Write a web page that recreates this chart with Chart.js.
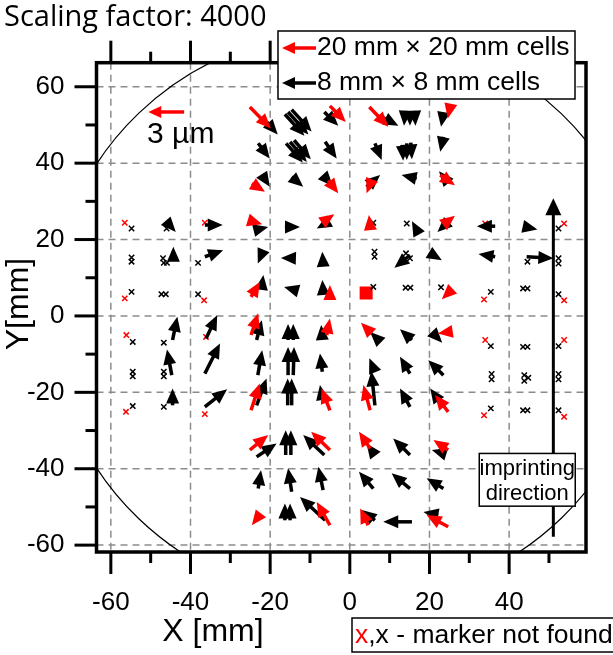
<!DOCTYPE html>
<html>
<head>
<meta charset="utf-8">
<script src="https://cdn.jsdelivr.net/npm/chart.js"></script>
<style>
  body { margin: 0; background: #fff; }
</style>
</head>
<body>
<canvas id="quiverChart" width="613" height="655"></canvas>
<script>
// axis ticks (mm)
const xTickLabels = [-60, -40, -20, 0, 20, 40];
const yTickLabels = [-60, -40, -20, 0, 20, 40, 60];
const xMinorTicks = [-50, -30, -10, 10, 30, 50];
const yMinorTicks = [-50, -30, -10, 10, 30, 50];

// arrows: [tailX, tailY, headX, headY] in mm (displacement already x4000)
const blackArrows = [
    // y ~ 52
    [-20.9, 50.8, -18.1, 47.5], [-16.3, 52.8, -11.4, 47.2], [-15.5, 53.4, -10.4, 47.5], [-14.6, 54.0, -9.6, 48.3],
    [-6.4, 53.4, -2.9, 49.8], [8.0, 52.1, 12.2, 49.8],
    [13.9, 53.4, 13.6, 49.8], [15.1, 53.4, 15.1, 49.8], [16.3, 53.4, 16.5, 49.8], [23.5, 53.0, 22.9, 49.5],
    // y ~ 44
    [-23.0, 45.2, -20.1, 41.2], [-16.0, 45.2, -11.8, 40.2], [-15.0, 45.6, -10.8, 40.3], [-14.0, 46.0, -9.8, 41.0],
    [-6.2, 45.6, -3.3, 41.2], [6.3, 45.2, 8.0, 40.8],
    [13.2, 44.8, 13.4, 40.6], [14.3, 45.2, 14.3, 40.8], [15.3, 45.4, 15.6, 41.0], [23.5, 46.9, 22.7, 43.0],
    // y ~ 36
    [-21.7, 36.4, -20.1, 33.8], [-14.6, 36.4, -11.7, 33.8], [-6.2, 36.2, -4.3, 34.0],
    [4.2, 33.8, 7.6, 36.9], [16.8, 36.0, 13.0, 36.9], [23.9, 36.0, 22.4, 37.9],
    // y ~ 24
    [-45.6, 24.2, -43.7, 22.0], [-36.4, 23.8, -31.9, 23.8],
    [-23.6, 22.5, -20.5, 23.3], [-16.3, 23.3, -12.5, 23.3], [-5.4, 24.6, -8.3, 22.9],
    [16.8, 22.5, 15.6, 24.8], [24.7, 24.6, 22.0, 22.0],
    [36.5, 23.5, 31.9, 23.5], [44.0, 23.3, 47.1, 22.6],
    // y ~ 15
    [-44.3, 15.1, -44.3, 18.1], [-36.4, 15.5, -31.8, 17.2],
    [-21.7, 17.2, -23.1, 13.7], [-14.2, 15.1, -17.3, 15.2], [-6.7, 13.3, -6.9, 16.8],
    [15.1, 15.9, 11.2, 12.6], [20.2, 16.4, 23.1, 14.6],
    [36.5, 15.5, 32.3, 16.2], [44.4, 15.5, 51.1, 15.1],
    // y ~ 7
    [-22.1, 7.6, -21.7, 10.7], [-13.8, 6.8, -16.5, 7.6], [-6.7, 6.3, -6.9, 9.4],
    // y ~ -6
    [-44.5, -6.3, -43.3, -0.2], [-36.1, -5.9, -33.3, 0.2],
    [-23.4, -6.3, -22.1, -1.1], [-15.5, -6.3, -15.5, -2.1], [-14.2, -6.3, -14.2, -2.1], [-6.9, -6.3, -7.2, -2.4],
    [6.8, -5.9, 5.1, -4.2], [15.6, -6.3, 12.6, -3.5], [21.0, -4.6, 23.2, -7.0],
    // y ~ -15
    [-44.7, -15.5, -45.9, -8.8], [-36.4, -15.1, -32.6, -7.2],
    [-23.1, -15.5, -22.0, -9.0], [-15.5, -15.5, -15.5, -8.1], [-14.2, -15.5, -14.0, -8.1], [-6.9, -14.6, -7.5, -9.8],
    [6.3, -14.6, 4.9, -11.1], [6.3, -23.4, 5.4, -14.5], [15.1, -15.1, 12.6, -10.7], [23.5, -15.5, 19.7, -11.6],
    // y ~ -23
    [-44.5, -23.4, -44.5, -19.0], [-36.4, -23.8, -30.8, -19.2],
    [-23.4, -23.4, -20.9, -16.4], [-15.6, -23.4, -15.6, -16.4], [-14.6, -23.4, -14.6, -16.4], [-6.9, -21.6, -7.5, -18.1],
    [15.1, -23.8, 12.6, -19.0], [22.2, -22.0, 20.2, -19.0],
    // y ~ -35
    [-23.4, -36.9, -18.4, -33.4], [-16.1, -36.4, -16.1, -29.9], [-14.8, -36.4, -14.8, -29.9], [-6.4, -36.4, -11.7, -31.2],
    [6.3, -36.4, 4.2, -33.4], [15.1, -36.4, 10.9, -32.1], [23.5, -36.0, 20.6, -35.1],
    // y ~ -45
    [-23.0, -45.2, -22.3, -40.4], [-14.6, -46.0, -15.5, -39.9], [-6.7, -45.6, -7.9, -39.5],
    [5.9, -45.2, 2.3, -40.8], [15.1, -45.2, 10.5, -41.2], [23.5, -45.2, 19.3, -42.5],
    // y ~ -53
    [-16.3, -53.5, -16.3, -49.1], [-15.0, -53.5, -15.0, -49.1], [-6.2, -53.5, -12.5, -47.4],
    [6.3, -53.5, 3.0, -50.8], [15.6, -53.9, 8.4, -53.9], [22.2, -52.1, 18.5, -51.3]
];

const redArrows = [
    [-25.1, 54.7, -19.8, 49.1], [-5.0, 55.0, -1.0, 50.8], [4.9, 54.7, 9.7, 49.5], [25.2, 54.7, 24.6, 51.7],
    [-24.6, 34.7, -21.3, 32.5], [-5.4, 35.5, -2.9, 32.1], [5.5, 35.5, 4.2, 32.1], [22.7, 36.9, 26.4, 34.2],
    [-25.5, 25.1, -22.0, 24.0], [-6.7, 24.6, -3.9, 26.6], [5.1, 23.3, 4.8, 26.4], [23.9, 24.2, 26.4, 26.2],
    [-24.8, 5.0, -22.6, 8.9], [-5.0, 5.0, -5.0, 8.1], [24.9, 6.2, 23.1, 4.4],
    [-24.8, -5.0, -23.0, 0.7], [-5.8, -5.0, -5.0, -0.7], [5.5, -4.6, 2.8, -1.8], [24.7, -4.2, 22.1, -4.6],
    [-24.8, -24.7, -22.6, -17.7], [-5.0, -24.7, -7.1, -19.0], [5.1, -24.7, 3.4, -18.1], [24.7, -25.1, 21.4, -20.7],
    [-25.1, -35.1, -20.5, -31.2], [-5.0, -35.1, -9.7, -30.3], [5.1, -34.7, 2.3, -30.3], [24.7, -35.1, 21.0, -32.5],
    [-23.0, -52.6, -24.6, -54.8], [-5.0, -54.8, -8.3, -48.7], [4.6, -54.8, 2.6, -50.4], [24.7, -55.2, 19.3, -52.1]
];

// positions where the marker was not found
const blackMissing = [
    [-54.8, 22.9], [-46.0, 22.9], [5.9, 24.4], [14.3, 24.2], [52.4, 22.9],
    [-54.8, 15.3], [-54.8, 14.2], [-46.9, 15.1], [-46.7, 13.9], [-45.9, 13.9], [-38.1, 13.9],
    [6.2, 16.8], [6.2, 15.5], [14.1, 16.4], [15.1, 15.1], [44.6, 14.2], [52.4, 15.1], [52.4, 13.7],
    [-54.8, 6.3], [-47.3, 5.7], [-46.2, 5.7], [-38.1, 5.7], [5.9, 7.6], [14.0, 7.4], [15.2, 7.4], [22.9, 7.5],
    [35.4, 6.3], [43.5, 7.2], [44.6, 7.2], [52.4, 5.7],
    [-54.5, -6.8], [-46.7, -7.0], [35.4, -7.9], [43.5, -8.1], [44.6, -8.1], [52.4, -7.9],
    [-54.5, -14.6], [-54.5, -15.8], [-46.7, -14.6], [-46.7, -15.8],
    [35.6, -15.2], [35.6, -16.6], [43.8, -15.5], [43.8, -17.0], [44.8, -16.2], [52.4, -15.2], [52.4, -16.6],
    [-54.5, -23.6], [-46.7, -23.8], [35.4, -24.2], [43.5, -24.7], [44.6, -24.7], [52.4, -24.7]
];
const redMissing = [
    [-56.5, 24.4], [-36.4, 24.4], [34.0, 24.2], [53.8, 24.2],
    [-56.5, 4.6], [-36.6, 4.1], [33.7, 4.3], [53.8, 4.1],
    [-56.1, -5.0], [-36.1, -5.5], [34.0, -6.3], [53.8, -6.3],
    [-56.2, -25.1], [-36.4, -25.7], [33.7, -26.0], [53.8, -26.4]
];
const redSquare = [[4.1, 6.0]];

const scaleArrow = [-41.6, 53.4, -50.6, 53.4]; // 3 µm reference
const imprintArrow = [51.1, -57.8, 51.1, 30.8];
const waferRadius = 75;

const FONT = "'Liberation Sans', Arial, sans-serif";

function drawArrow(ctx, x0, y0, x1, y1, color, shaft, headLen, headW) {
    const dx = x1 - x0, dy = y1 - y0;
    const len = Math.hypot(dx, dy);
    if (len < 0.01) return;
    const ux = dx / len, uy = dy / len;
    const bx = x1 - ux * headLen, by = y1 - uy * headLen;
    ctx.strokeStyle = color;
    ctx.fillStyle = color;
    if (len > headLen) {
        ctx.lineWidth = shaft;
        ctx.beginPath();
        ctx.moveTo(x0, y0);
        ctx.lineTo(bx + ux, by + uy);
        ctx.stroke();
    }
    ctx.beginPath();
    ctx.moveTo(x1, y1);
    ctx.lineTo(bx - uy * headW / 2, by + ux * headW / 2);
    ctx.lineTo(bx + uy * headW / 2, by - ux * headW / 2);
    ctx.closePath();
    ctx.fill();
}

const quiverPlugin = {
    id: 'quiver',
    beforeDatasetsDraw(chart) {
        const { ctx, chartArea: a, scales: { x, y } } = chart;
        ctx.save();
        ctx.strokeStyle = '#8c8c8c';
        ctx.lineWidth = 1.5;
        ctx.setLineDash([7, 5]);
        xTickLabels.forEach(v => {
            const px = x.getPixelForValue(v);
            ctx.beginPath(); ctx.moveTo(px, a.top); ctx.lineTo(px, a.bottom); ctx.stroke();
        });
        yTickLabels.forEach(v => {
            const py = y.getPixelForValue(v);
            ctx.beginPath(); ctx.moveTo(a.left, py); ctx.lineTo(a.right, py); ctx.stroke();
        });
        ctx.setLineDash([]);

        // wafer outline
        ctx.beginPath();
        ctx.rect(a.left, a.top, a.right - a.left, a.bottom - a.top);
        ctx.clip();
        const cx = x.getPixelForValue(0), cy = y.getPixelForValue(0);
        ctx.beginPath();
        ctx.ellipse(cx, cy, x.getPixelForValue(waferRadius) - cx, cy - y.getPixelForValue(waferRadius), 0, 0, Math.PI * 2);
        ctx.strokeStyle = '#000';
        ctx.lineWidth = 1.2;
        ctx.stroke();
        ctx.restore();
    },
    afterDatasetsDraw(chart) {
        const { ctx, scales: { x, y } } = chart;
        ctx.save();
        const px = v => x.getPixelForValue(v), py = v => y.getPixelForValue(v);
        blackArrows.forEach(r => drawArrow(ctx, px(r[0]), py(r[1]), px(r[2]), py(r[3]), '#000', 3.5, 15, 13));
        redArrows.forEach(r => drawArrow(ctx, px(r[0]), py(r[1]), px(r[2]), py(r[3]), '#ff0000', 3.5, 15, 13));

        // scale arrow + label
        drawArrow(ctx, px(scaleArrow[0]), py(scaleArrow[1]), px(scaleArrow[2]), py(scaleArrow[3]), '#ff0000', 3.5, 13, 12);
        ctx.fillStyle = '#000';
        ctx.font = '30px ' + FONT;
        ctx.textAlign = 'left';
        ctx.textBaseline = 'middle';
        ctx.fillText('3 µm', px(-50.9), py(47.5));

        // imprinting direction
        drawArrow(ctx, px(imprintArrow[0]), py(imprintArrow[1]), px(imprintArrow[2]), py(imprintArrow[3]), '#000', 3, 17, 16);
        const bx0 = px(32.5), bx1 = px(56.6), by0 = py(-36.0), by1 = py(-49.8);
        ctx.fillStyle = '#fff';
        ctx.fillRect(bx0, by0, bx1 - bx0, by1 - by0);
        ctx.strokeStyle = '#000';
        ctx.lineWidth = 1.5;
        ctx.strokeRect(bx0, by0, bx1 - bx0, by1 - by0);
        ctx.fillStyle = '#000';
        ctx.font = '22px ' + FONT;
        ctx.textAlign = 'center';
        ctx.fillText('imprinting', (bx0 + bx1) / 2, by0 + 15);
        ctx.fillText('direction', (bx0 + bx1) / 2, by0 + 40);
        ctx.restore();
    },
    afterDraw(chart) {
        const { ctx, chartArea: a, scales: { x, y } } = chart;
        ctx.save();
        // frame
        ctx.strokeStyle = '#000';
        ctx.lineWidth = 3.5;
        ctx.strokeRect(a.left, a.top, a.right - a.left, a.bottom - a.top);

        // outer ticks: top, bottom, left
        ctx.lineWidth = 3;
        const tick = (x0, y0, x1, y1) => { ctx.beginPath(); ctx.moveTo(x0, y0); ctx.lineTo(x1, y1); ctx.stroke(); };
        xTickLabels.forEach(v => {
            const p = x.getPixelForValue(v);
            tick(p, a.top, p, a.top - 22);
            tick(p, a.bottom, p, a.bottom + 22);
        });
        xMinorTicks.forEach(v => {
            const p = x.getPixelForValue(v);
            tick(p, a.top, p, a.top - 11);
            tick(p, a.bottom, p, a.bottom + 11);
        });
        yTickLabels.forEach(v => {
            const p = y.getPixelForValue(v);
            tick(a.left, p, a.left - 22, p);
        });
        yMinorTicks.forEach(v => {
            const p = y.getPixelForValue(v);
            tick(a.left, p, a.left - 11, p);
        });

        // axis titles
        ctx.fillStyle = '#000';
        ctx.font = '32px ' + FONT;
        ctx.textAlign = 'center';
        ctx.textBaseline = 'middle';
        ctx.fillText('X [mm]', 213, 632);
        ctx.save();
        ctx.translate(19, 304);
        ctx.rotate(-Math.PI / 2);
        ctx.fillText('Y[mm]', 0, 0);
        ctx.restore();

        // scaling factor
        ctx.font = "29px 'Open Sans', sans-serif";
        ctx.textAlign = 'left';
        ctx.fillText('Scaling factor: 4000', 4, 18);

        // legend box
        ctx.fillStyle = '#fff';
        ctx.fillRect(278, 31, 297, 68);
        ctx.lineWidth = 1.5;
        ctx.strokeRect(278, 31, 297, 68);
        drawArrow(ctx, 316, 48, 282, 48, '#ff0000', 3.5, 13, 12);
        drawArrow(ctx, 316, 83, 282, 83, '#000', 3.5, 13, 12);
        ctx.fillStyle = '#000';
        ctx.font = '26.5px ' + FONT;
        ctx.textAlign = 'left';
        ctx.fillText('20 mm × 20 mm cells', 317, 48);
        ctx.fillText('8 mm × 8 mm cells', 317, 83);

        // marker-not-found note
        ctx.fillStyle = '#fff';
        ctx.fillRect(352, 618, 270, 34);
        ctx.strokeStyle = '#000';
        ctx.lineWidth = 1.5;
        ctx.strokeRect(352, 618, 270, 34);
        ctx.fillStyle = '#ff0000';
        ctx.fillText('x', 355, 636);
        const w = ctx.measureText('x').width;
        ctx.fillStyle = '#000';
        ctx.fillText(',x - marker not found', 355 + w, 636);
        ctx.restore();
    }
};

const toPoints = arr => arr.map(p => ({ x: p[0], y: p[1] }));

new Chart(document.getElementById('quiverChart'), {
    type: 'scatter',
    data: {
        datasets: [
            {
                label: 'marker not found (8 mm cells)',
                data: toPoints(blackMissing),
                pointStyle: 'crossRot',
                pointRadius: 3.8,
                borderColor: '#000',
                borderWidth: 1.5
            },
            {
                label: 'marker not found (20 mm cells)',
                data: toPoints(redMissing),
                pointStyle: 'crossRot',
                pointRadius: 3.8,
                borderColor: '#ff0000',
                borderWidth: 1.5
            },
            {
                label: 'reference',
                data: toPoints(redSquare),
                pointStyle: 'rect',
                pointRadius: 9.2,
                backgroundColor: '#ff0000',
                borderColor: '#ff0000',
                borderWidth: 0
            }
        ]
    },
    options: {
        responsive: false,
        animation: false,
        devicePixelRatio: 1,
        layout: { padding: { top: 62.7, right: 27, left: 0, bottom: 0 } },
        plugins: { legend: { display: false }, tooltip: { enabled: false } },
        scales: {
            x: {
                type: 'linear',
                min: -63.6,
                max: 59.3,
                grid: { display: false, drawTicks: false },
                border: { display: false },
                afterBuildTicks: s => { s.ticks = xTickLabels.map(v => ({ value: v })); },
                afterFit: s => { s.height = 103; },
                ticks: { font: { family: FONT, size: 26 }, color: '#000', padding: 35, maxRotation: 0 }
            },
            y: {
                type: 'linear',
                min: -61.8,
                max: 66.3,
                grid: { display: false, drawTicks: false },
                border: { display: false },
                afterBuildTicks: s => { s.ticks = yTickLabels.map(v => ({ value: v })); },
                afterFit: s => { s.width = 96.5; },
                ticks: { font: { family: FONT, size: 26 }, color: '#000', padding: 32 }
            }
        }
    },
    plugins: [quiverPlugin]
});
</script>
</body>
</html>
